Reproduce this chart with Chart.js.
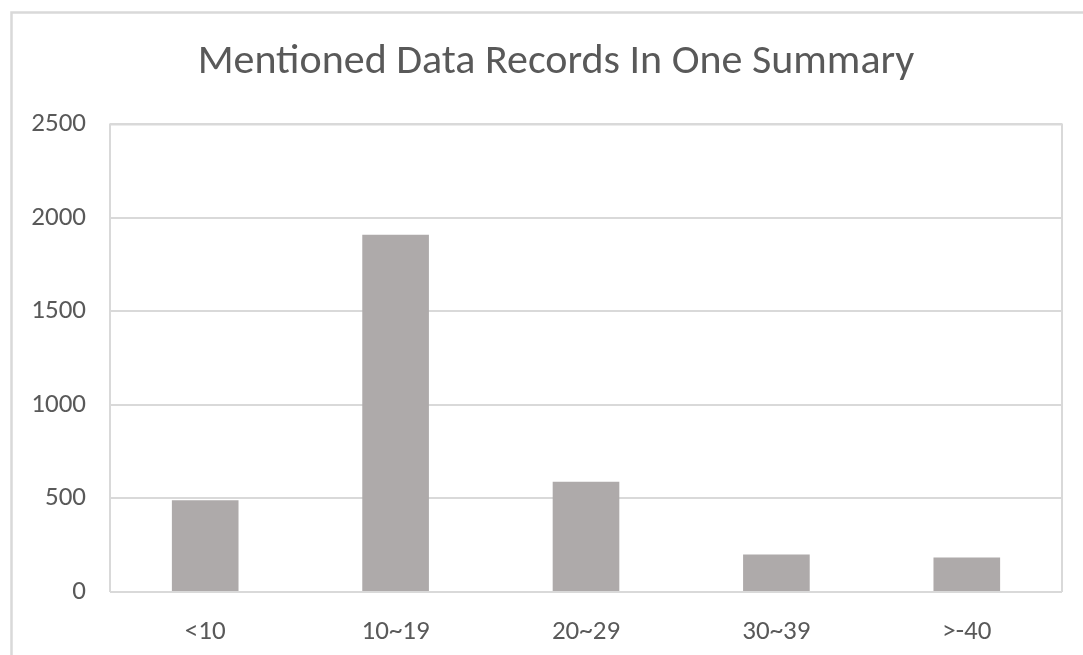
<!DOCTYPE html>
<html>
<head>
<meta charset="utf-8">
<script src="https://cdn.jsdelivr.net/npm/chart.js@4"></script>
<style>
  html, body { margin: 0; padding: 0; background: #fff; overflow: hidden; }
  #wrap { width: 1083px; height: 655px; position: relative; }
</style>
</head>
<body>
<div id="wrap"><canvas id="recordsChart" width="1083" height="655"></canvas></div>
<script>
// Data for the chart
const categories = ['<10', '10~19', '20~29', '30~39', '>-40'];
const counts = [490, 1910, 590, 200, 185];
const yTicks = [0, 500, 1000, 1500, 2000, 2500];

const textColor = '#595959';
const lineColor = '#d9d9d9';
const fontFamily = "Calibri, Carlito, 'Open Sans', 'Noto Sans', sans-serif";

// outer chart border + plot area frame
const frames = {
  id: 'frames',
  afterLayout(chart) {
    // title is centred a little right of the canvas middle
    if (chart.titleBlock) chart.titleBlock.left = 50;
  },
  beforeDraw(chart) {
    const c = chart.ctx;
    c.save();
    c.strokeStyle = lineColor;
    c.lineWidth = 2.5;
    c.strokeRect(11.5, 12.5, 1200, 800);
    c.restore();
  },
  afterDatasetsDraw(chart) {
    const a = chart.chartArea;
    const c = chart.ctx;
    c.save();
    c.strokeStyle = lineColor;
    c.lineWidth = 2;
    c.beginPath();
    c.moveTo(a.left, a.bottom);
    c.lineTo(a.left, a.top);
    c.lineTo(a.right, a.top);
    c.lineTo(a.right, a.bottom);
    c.stroke();
    c.restore();
  }
};

const ctx = document.getElementById('recordsChart').getContext('2d');
const recordsChart = new Chart(ctx, {
  type: 'bar',
  data: {
    labels: categories,
    datasets: [{
      label: 'Records',
      data: counts,
      backgroundColor: '#aeaaaa',
      borderWidth: 0,
      barPercentage: 0.35,
      categoryPercentage: 1
    }]
  },
  options: {
    responsive: false,
    animation: false,
    layout: { padding: { left: 0, right: 21, top: 0, bottom: 0 } },
    plugins: {
      legend: { display: false },
      tooltip: { enabled: false },
      title: {
        display: true,
        text: 'Mentioned Data Records In One Summary',
        color: textColor,
        font: { family: fontFamily, size: 42, weight: 'normal' },
        padding: { top: 37, bottom: 37 }
      }
    },
    scales: {
      x: {
        grid: { display: false, drawTicks: false },
        border: { display: false },
        ticks: { color: textColor, font: { family: fontFamily, size: 27 }, padding: 24 },
        afterFit(s) { s.height = 63; }
      },
      y: {
        min: 0,
        max: 2500,
        afterBuildTicks(s) { s.ticks = yTicks.map(v => ({ value: v })); },
        grid: { color: lineColor, lineWidth: 2, drawTicks: false },
        border: { display: false },
        ticks: {
          color: textColor,
          font: { family: fontFamily, size: 27 },
          padding: 24,
          callback: v => String(v)
        },
        afterFit(s) { s.width = 110; }
      }
    }
  },
  plugins: [frames]
});
</script>
</body>
</html>
